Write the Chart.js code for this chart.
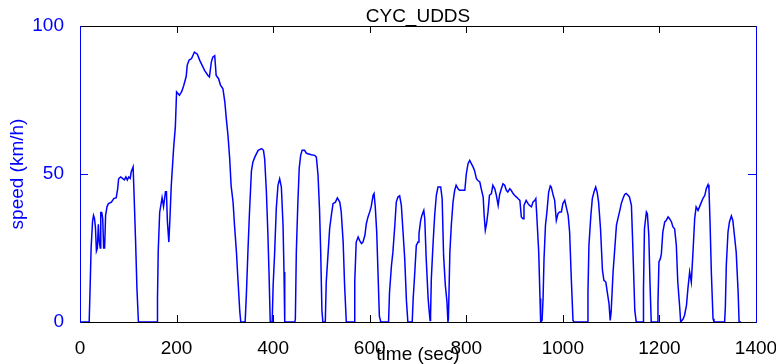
<html>
    <head>
        <meta charset="UTF-8">
        <script src="https://cdn.jsdelivr.net/npm/chart.js@4.4.1/dist/chart.umd.min.js"></script>
        <style>
            body { margin: 0; background: #ffffff; }
            #cycChart { display: block; }
        </style>
    </head>
    <body>
        <canvas id="cycChart" width="776" height="364"></canvas>

        <script>
            // UDDS drive cycle: time (s) against speed (km/h)
            var timeSec = [
                0, 19, 21, 23, 26, 28, 30, 32, 34, 36, 38, 40, 42, 43, 45, 47, 49, 51, 53, 56, 59, 65, 70, 75, 78, 80, 84, 88, 92, 95, 98, 101, 104, 106, 110, 112, 115, 118, 121,
                160, 160.5, 162, 165, 170, 173, 177, 179, 181, 184, 186, 189, 194, 197.5, 200, 206, 211, 215, 220, 222, 226, 231, 237, 243, 248, 253, 258, 265, 268, 272, 275, 279, 282, 287, 291, 296, 300, 303, 306.5, 310, 313, 317, 320, 324, 327, 331, 333,
                342, 344.5, 348, 351, 355, 358, 362, 369, 376, 380, 382.5, 386, 389, 391.5, 394, 398, 400, 403, 406.5, 410, 413.5, 417, 420.5, 422.5, 424,
                445, 446, 448, 451, 454, 457, 460, 465, 469, 479, 486, 489.5, 493, 496, 498.5, 501, 503,
                508, 510, 513.5, 517, 520.5, 524, 529, 533, 538, 541, 545, 548, 551.5,
                567.5, 569, 572, 576, 579, 583, 586, 590, 593, 596.5, 600, 603, 607, 609, 611.5, 614.5, 617, 620, 623,
                639, 641, 645, 648, 652, 655, 658.5, 662, 665.5, 669, 672.5, 676, 679,
                688, 690, 693, 696.5, 700, 702, 705.5, 708, 712, 714, 717, 721, 723, 725, 726, 727.6, 731, 734.5, 738, 741.4, 747, 750, 753, 756.6, 760, 762,
                763, 766, 769, 772.5, 776, 779, 783, 786, 793, 797, 800, 803.6, 807, 810.5, 814, 817, 821, 824, 828, 831, 835, 837, 839.4, 842, 845, 848, 852, 855, 859, 862, 866, 869, 872.6, 876, 879.5, 883, 886, 890, 893, 897, 900, 904, 907, 911, 914, 917.5, 919.5, 924, 928, 931, 935, 938, 942, 944, 946, 950, 952.7, 954,
                957, 959, 961, 964, 967, 970.6, 974, 976, 980, 983, 986.5, 990, 993, 997, 1000, 1004, 1007, 1011, 1014, 1017.5, 1021, 1023,
                1051, 1052, 1054, 1058, 1061, 1064.5, 1068, 1071, 1074, 1078, 1082, 1085, 1089, 1092, 1095.6, 1098, 1100, 1104, 1107, 1111, 1114, 1118, 1121, 1124.5, 1128, 1131, 1135, 1138, 1142, 1144, 1146, 1149, 1152,
                1166, 1167, 1169, 1173, 1175, 1178, 1180.5, 1183,
                1196, 1197, 1199, 1202, 1204, 1207, 1211, 1214, 1218, 1221, 1225, 1228, 1231.5, 1235, 1238, 1242, 1244,
                1249, 1252, 1256, 1259, 1262.6, 1266, 1269.5, 1273, 1276, 1280, 1283, 1287, 1290, 1294, 1297, 1300.6, 1302.6, 1305, 1307.5, 1311, 1313,
                1335, 1336.5, 1338.5, 1342, 1345, 1349, 1352, 1356, 1359, 1363, 1365, 1369
            ];
            var speedKmh = [
                0, 0, 12, 25, 34, 36, 35, 32, 24, 25, 33, 27, 25, 37, 37, 35, 25, 25, 36, 39, 40, 40.5, 41.7, 42, 45, 48.4, 49, 48.5, 48, 49, 48, 49, 48.5, 50.7, 52.4, 43, 28, 11, 0,
                0, 8, 24, 37, 42, 39, 44, 44, 34, 27, 34, 46, 59, 66, 77.7, 76.6, 78, 80, 83, 86.7, 88.5, 89, 91.2, 90.5, 88.4, 86.7, 85, 83.3, 82.8, 87.8, 89.5, 90, 83.3, 82.2, 80, 78.8, 74.3, 68.7, 63, 55.2, 46, 40.5, 32.7, 23.6, 14.6, 3.4, 0,
                0, 9, 24.8, 37, 51, 54, 55.7, 58, 58.6, 58, 55, 44, 30.4, 16.3, 0, 0, 12.4, 23, 38.3, 46.2, 48.4, 45.6, 32.7, 16.9, 0,
                0, 1, 23.6, 39.4, 52, 56.3, 58, 58, 57, 56.5, 56.3, 55.7, 49.5, 38.3, 23.6, 3.9, 0,
                0, 13.5, 22.5, 31.5, 36, 40, 40.5, 41.9, 40.5, 37.2, 27, 12.4, 0,
                0, 13.5, 27, 28.7, 27.6, 26.5, 27, 29.3, 33.2, 35.5, 37.2, 38.9, 42.8, 43.4, 38.9, 30.4, 17.5, 2, 0,
                0, 10, 19, 23.6, 32.7, 40.5, 42.2, 42.6, 39.4, 30.4, 21.4, 7.3, 0,
                0, 7.9, 15.8, 25.9, 27, 29.8, 34.3, 36, 37.7, 34.9, 21.4, 7.9, 4, 0.5, 2, 14.6, 25.9, 36, 42.8, 45.6, 45.6, 41.7, 22.5, 12.4, 6.8, 0,
                1, 23.6, 32.7, 40.5, 44.5, 46.2, 45, 44.5, 44.5, 44.5, 50, 53.5, 54.6, 53.5, 52.4, 51.2, 48.4, 47.8, 47.3, 45, 42.2, 36, 31, 33.2, 37.2, 42.8, 43.4, 46.2, 45, 43, 39.4, 43, 45, 46.7, 46.2, 44.5, 43.9, 45, 44.5, 43.4, 42.8, 42.2, 41.7, 41.1, 35.5, 34.9, 39.4, 41.1, 40, 39.4, 38.9, 40.5, 41.1, 41.7, 36, 23.6, 7.9, 0,
                0.5, 7.9, 21.4, 32.7, 37.2, 43.9, 46, 45.6, 42.8, 41.1, 34.3, 36.6, 37.2, 37.2, 40, 41.1, 38.9, 36, 30.4, 14.6, 0.5, 0,
                0, 10.1, 25.9, 36, 41.7, 43.9, 45.6, 43.9, 40.5, 31.5, 17.5, 14.1, 13.5, 10.1, 6.2, 0.5, 3.4, 16.9, 23.6, 32.7, 34.9, 37.7, 40, 41.7, 43.1, 43.4, 42.8, 42.2, 39.4, 29.8, 19.7, 3.9, 0,
                0, 11.3, 31.5, 37.2, 36.6, 29.3, 13, 0,
                0, 6.8, 20.3, 21.4, 23, 30.4, 33.8, 34.3, 35.5, 34.9, 33.8, 32.1, 31.5, 25.9, 13.5, 5, 0,
                1, 2.3, 5.6, 11.3, 16.9, 13.5, 23.6, 34.9, 38.9, 37.7, 38.9, 40.5, 41.7, 42.8, 45, 46.4, 45, 32.7, 16.9, 1.1, 0,
                0, 5, 19.1, 30.4, 33.8, 35.8, 34.3, 28.2, 23.6, 10.1, 0, 0
            ];
            var xTickStep = 200, xMax = 1400;
            var yTickStep = 50, yMax = 100;

            var blue = '#0000ff';
            var fontFam = "'Liberation Sans', Arial, sans-serif";

            var points = [];
            for (var i = 0; i < timeSec.length; i++) {
                points.push({x: timeSec[i], y: speedKmh[i]});
            }

            // box round the plot with the little inward tick marks
            var axesBox = {
                id: 'axesBox',
                beforeDatasetsDraw: function(chart) {
                    var ctx = chart.ctx, a = chart.chartArea;
                    var xs = chart.scales.x, ys = chart.scales.y;
                    ctx.save();
                    ctx.lineWidth = 1;
                    ctx.strokeStyle = '#000000';
                    ctx.beginPath();
                    ctx.moveTo(a.left, a.top + 0.5); ctx.lineTo(a.right, a.top + 0.5);
                    ctx.moveTo(a.left, a.bottom + 0.5); ctx.lineTo(a.right, a.bottom + 0.5);
                    for (var t = xTickStep; t < xMax; t += xTickStep) {
                        var px = Math.round(xs.getPixelForValue(t)) + 0.5;
                        ctx.moveTo(px, a.bottom); ctx.lineTo(px, a.bottom - 7);
                        ctx.moveTo(px, a.top); ctx.lineTo(px, a.top + 7);
                    }
                    ctx.stroke();
                    ctx.strokeStyle = blue;
                    ctx.beginPath();
                    ctx.moveTo(a.left + 0.5, a.top); ctx.lineTo(a.left + 0.5, a.bottom + 1);
                    ctx.moveTo(a.right + 0.5, a.top); ctx.lineTo(a.right + 0.5, a.bottom + 1);
                    for (var v = yTickStep; v < yMax; v += yTickStep) {
                        var py = Math.round(ys.getPixelForValue(v)) + 0.5;
                        ctx.moveTo(a.left, py); ctx.lineTo(a.left + 8, py);
                        ctx.moveTo(a.right, py); ctx.lineTo(a.right - 8, py);
                    }
                    ctx.stroke();
                    ctx.restore();
                }
            };

            var ctx = document.getElementById('cycChart').getContext('2d');
            var cycChart = new Chart(ctx, {
                type: 'line',
                data: {
                    datasets: [{
                        label: 'speed',
                        data: points,
                        borderColor: blue,
                        borderWidth: 1.5,
                        pointRadius: 0,
                        tension: 0,
                        fill: false
                    }]
                },
                options: {
                    responsive: false,
                    animation: false,
                    devicePixelRatio: 1,
                    layout: { padding: { left: 0, right: 20, top: 0, bottom: 0 } },
                    plugins: {
                        legend: { display: false },
                        tooltip: { enabled: false },
                        title: {
                            display: true,
                            text: 'CYC_UDDS',
                            color: '#000000',
                            fullSize: false,
                            font: { family: fontFam, size: 19, weight: 'normal', lineHeight: 1 },
                            padding: { top: 7, bottom: 0 }
                        }
                    },
                    scales: {
                        x: {
                            type: 'linear',
                            min: 0,
                            max: xMax,
                            grid: { display: false },
                            border: { display: false },
                            ticks: {
                                stepSize: xTickStep,
                                color: '#000000',
                                padding: 7,
                                maxRotation: 0,
                                font: { family: fontFam, size: 19 },
                                callback: function(value) { return String(value); }
                            },
                            title: {
                                display: true,
                                text: 'time (sec)',
                                color: '#000000',
                                font: { family: fontFam, size: 19, lineHeight: 1 },
                                padding: { top: 0, bottom: 0 }
                            },
                            afterFit: function(s) {
                                s.height = 42;
                                // let "1400" hang past the plot edge
                                s.paddingLeft = 0;
                                s.paddingRight = 0;
                            }
                        },
                        y: {
                            min: 0,
                            max: yMax,
                            grid: { display: false },
                            border: { display: false },
                            ticks: {
                                stepSize: yTickStep,
                                color: blue,
                                padding: 8,
                                font: { family: fontFam, size: 19 }
                            },
                            title: {
                                display: true,
                                text: 'speed (km/h)',
                                color: blue,
                                font: { family: fontFam, size: 19, lineHeight: 1 },
                                padding: { top: 8.5, bottom: 0 }
                            },
                            afterFit: function(s) { s.width = 80; }
                        }
                    }
                },
                plugins: [axesBox]
            });
        </script>
    </body>
</html>
